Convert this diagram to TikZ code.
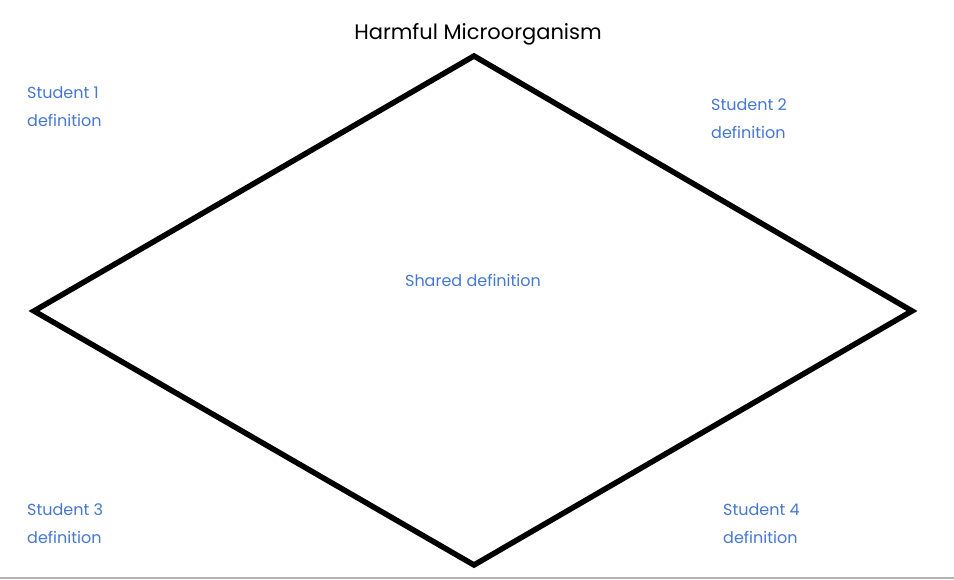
\documentclass[tikz,border=0pt]{standalone}
\usepackage{fontspec}
\setmainfont{Poppins}
\definecolor{lab}{RGB}{70,120,210}
\begin{document}
\begin{tikzpicture}[x=1pt,y=-1pt,
  lbl/.style={text=lab,font=\fontsize{16}{28}\selectfont,align=left,anchor=north west,inner sep=0pt}]
\useasboundingbox (0,0) rectangle (954,580);
\fill[white] (0,0) rectangle (954,580);
\draw[gray!60,line width=2pt] (0,578) -- (954,578);
\coordinate (t) at (474,56);
\coordinate (r) at (912,311);
\coordinate (b) at (474,565);
\coordinate (l) at (34,311);
\draw[line width=5.5pt,line join=miter] (t) -- (r) -- (b) -- (l) -- cycle;
\node[font=\fontsize{21}{24}\selectfont] (title) at (478,34) {Harmful Microorganism};
\node[lbl] (s1) at (27,86) {Student 1\\definition};
\node[lbl] (s2) at (711,98) {Student 2\\definition};
\node[lbl] (s3) at (27,503) {Student 3\\definition};
\node[lbl] (s4) at (723,503) {Student 4\\definition};
\node[text=lab,font=\fontsize{16}{20}\selectfont] (sh) at (473,280) {Shared definition};
\end{tikzpicture}
\end{document}
